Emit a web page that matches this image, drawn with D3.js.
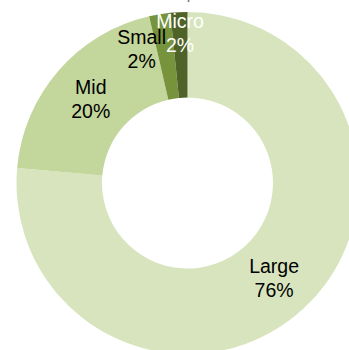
<!DOCTYPE html>
<html>
<head>
<meta charset="utf-8">
<script src="https://cdn.jsdelivr.net/npm/d3@7"></script>
<style>
  html, body { margin: 0; padding: 0; background: #fff; }
  svg { display: block; }
</style>
</head>
<body>
<svg id="chart" width="349" height="350"></svg>
<script>
// Market capitalisation mix
const categories = ["Large", "Mid", "Small", "Micro"];
const shares = [76.4, 20.0, 2.0, 1.6];
const percentLabels = ["76%", "20%", "2%", "2%"];
const sliceColors = ["#d7e4bd", "#c3d69b", "#77933c", "#4f6228"];
const labelColors = ["#000000", "#000000", "#000000", "#ffffff"];
const titleText = "Market Capitalization";

const svg = d3.select("#chart");
const cx = 187.5, cy = 183;
const outerR = 171, innerR = 85.5;

const data = categories.map((c, i) => ({ name: c, value: shares[i], pct: percentLabels[i], i }));

const pie = d3.pie().value(d => d.value).sort(null);
const arc = d3.arc().innerRadius(innerR).outerRadius(outerR);
const color = d3.scaleOrdinal().domain(categories).range(sliceColors);

// Title sits above the plot area, almost entirely outside the canvas
svg.append("text")
  .attr("x", cx)
  .attr("y", -2)
  .attr("text-anchor", "middle")
  .attr("font-family", "Liberation Sans, Arial, sans-serif")
  .attr("font-size", 18)
  .attr("fill", "#7f7f7f")
  .text(titleText);

const g = svg.append("g").attr("transform", `translate(${cx},${cy})`);
const arcs = pie(data);

g.selectAll("path.slice")
  .data(arcs)
  .join("path")
  .attr("class", "slice")
  .attr("d", arc)
  .attr("fill", d => color(d.data.name));

// Thin slices get their labels nudged outward so they don't collide
const nudge = { Small: [-25, -7], Micro: [-1, -22] };

const labels = g.selectAll("text.lbl")
  .data(arcs)
  .join("text")
  .attr("class", "lbl")
  .attr("text-anchor", "middle")
  .attr("font-family", "Liberation Sans, Arial, sans-serif")
  .attr("font-size", 19.5)
  .attr("fill", d => labelColors[d.data.i])
  .attr("transform", d => {
    const [x, y] = arc.centroid(d);
    const off = nudge[d.data.name] || [0, 0];
    return `translate(${x + off[0]},${y + off[1]})`;
  });

labels.append("tspan").attr("x", 0).attr("y", -5).text(d => d.data.name);
labels.append("tspan").attr("x", 0).attr("y", 19).text(d => d.data.pct);
</script>
</body>
</html>
